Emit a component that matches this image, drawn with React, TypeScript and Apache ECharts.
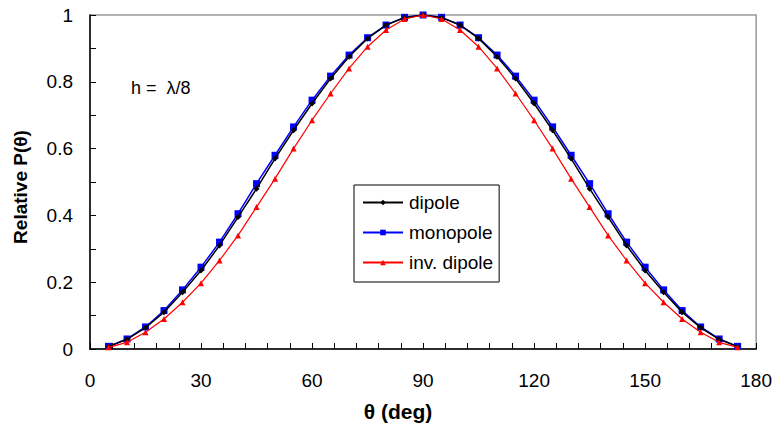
import React, { useEffect, useRef } from "react";
import * as echarts from "echarts";

const angles = [5, 10, 15, 20, 25, 30, 35, 40, 45, 50, 55, 60, 65, 70, 75, 80, 85, 90,
  95, 100, 105, 110, 115, 120, 125, 130, 135, 140, 145, 150, 155, 160, 165, 170, 175];

const dipole = [0.007, 0.029, 0.064, 0.11, 0.17, 0.235, 0.31, 0.395, 0.48, 0.57, 0.655, 0.735, 0.81, 0.875, 0.93, 0.97, 0.992, 1.0,
  0.992, 0.97, 0.93, 0.875, 0.81, 0.735, 0.655, 0.57, 0.48, 0.395, 0.31, 0.235, 0.17, 0.11, 0.064, 0.029, 0.007];

const monopole = [0.008, 0.03, 0.066, 0.115, 0.177, 0.245, 0.32, 0.405, 0.495, 0.58, 0.665, 0.745, 0.817, 0.88, 0.932, 0.97, 0.993, 1.0,
  0.993, 0.97, 0.932, 0.88, 0.817, 0.745, 0.665, 0.58, 0.495, 0.405, 0.32, 0.245, 0.177, 0.115, 0.066, 0.03, 0.008];

const invDipole = [0.005, 0.02, 0.05, 0.09, 0.14, 0.197, 0.265, 0.34, 0.425, 0.51, 0.6, 0.685, 0.765, 0.84, 0.905, 0.955, 0.988, 1.0,
  0.988, 0.955, 0.905, 0.84, 0.765, 0.685, 0.6, 0.51, 0.425, 0.34, 0.265, 0.197, 0.14, 0.09, 0.05, 0.02, 0.005];

const seriesNames = ["dipole", "monopole", "inv. dipole"];

export default function App() {
  const ref = useRef<HTMLDivElement>(null);
  useEffect(() => {
    if (!ref.current) return;
    const chart = echarts.init(ref.current, null, { renderer: "svg" });
    const font = "Liberation Sans, Arial, sans-serif";
    const mk = (vals: number[]) => angles.map((a, i) => [a, vals[i]]);
    chart.setOption({
      animation: false,
      backgroundColor: "#fff",
      textStyle: { fontFamily: font },
      grid: {
        left: 90, right: 18, top: 15, bottom: 80,
        show: true, borderColor: "#999", borderWidth: 1.5, backgroundColor: "transparent",
      },
      legend: {
        orient: "vertical",
        left: 354, top: 185,
        borderColor: "#000", borderWidth: 1,
        padding: [8, 6, 10, 8],
        itemGap: 11,
        itemWidth: 40, itemHeight: 7,
        textStyle: { fontFamily: font, fontSize: 19, color: "#000", padding: [0, 0, 0, 1] },
        data: seriesNames,
      },
      xAxis: {
        type: "value", min: 0, max: 180, interval: 6,
        name: "θ (deg)", nameLocation: "middle", nameGap: 52,
        nameTextStyle: { fontFamily: font, fontSize: 21, fontWeight: "bold", color: "#000", padding: [0, 50, 0, 0] },
        axisLine: { show: true, lineStyle: { color: "#000", width: 1.5 } },
        axisTick: { show: true, inside: true, length: 6, lineStyle: { color: "#000" } },
        axisLabel: {
          margin: 22, fontSize: 19, color: "#000", fontFamily: font,
          formatter: (v: number) => (Math.round(v) % 30 === 0 ? String(Math.round(v)) : ""),
        },
        splitLine: { show: false },
      },
      yAxis: {
        type: "value", min: 0, max: 1, interval: 0.1,
        name: "Relative P(θ)", nameLocation: "middle", nameGap: 60,
        nameTextStyle: { fontFamily: font, fontSize: 19, fontWeight: "bold", color: "#000", padding: [0, 10, 0, 0] },
        axisLine: { show: true, lineStyle: { color: "#000", width: 1.5 } },
        axisTick: { show: true, inside: true, length: 6, lineStyle: { color: "#000" } },
        axisLabel: {
          margin: 17, fontSize: 19, color: "#000", fontFamily: font,
          formatter: (v: number) => {
            const k = Math.round(v * 10);
            return k % 2 === 0 ? String(k / 10) : "";
          },
        },
        splitLine: { show: false },
      },
      graphic: [
        {
          type: "text", left: 131, top: 79,
          style: { text: "h =  λ/8", fontFamily: font, fontSize: 18, fill: "#000" },
        },
      ],
      series: [
        {
          name: "dipole", type: "line", data: mk(dipole), z: 3,
          symbol: "diamond", symbolSize: 6,
          itemStyle: { color: "#000" },
          lineStyle: { color: "#000", width: 1.5 },
        },
        {
          name: "monopole", type: "line", data: mk(monopole), z: 2,
          symbol: "rect", symbolSize: 7,
          itemStyle: { color: "#0000ff" },
          lineStyle: { color: "#0000ff", width: 1.5 },
        },
        {
          name: "inv. dipole", type: "line", data: mk(invDipole), z: 4,
          symbol: "triangle", symbolSize: 6,
          itemStyle: { color: "#ff0000" },
          lineStyle: { color: "#ff0000", width: 1.2 },
        },
      ],
    });
    return () => chart.dispose();
  }, []);
  return <div ref={ref} style={{ width: 775, height: 429, position: "fixed", left: 0, top: 0 }} />;
}
